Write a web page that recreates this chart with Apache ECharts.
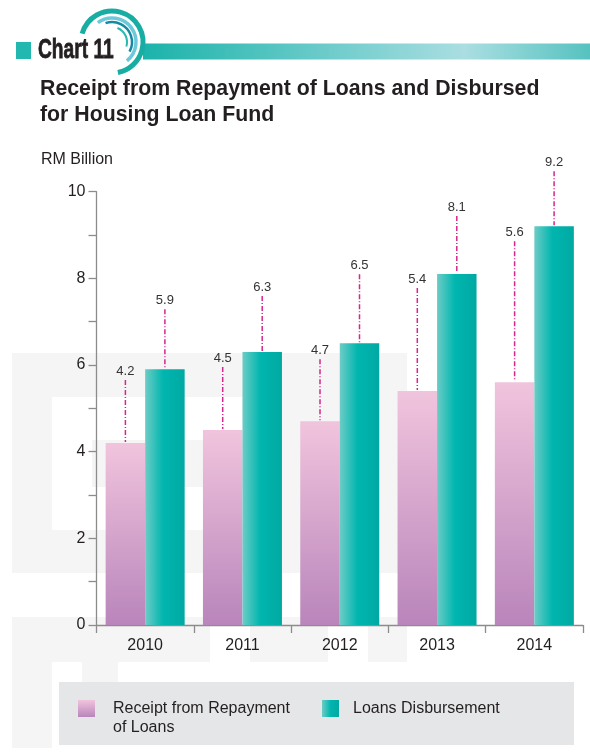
<!DOCTYPE html>
<html>
<head>
<meta charset="utf-8">
<style>
  html, body { margin: 0; padding: 0; background: #ffffff; }
  #chart { width: 590px; height: 753px; }
</style>
<script src="https://cdn.jsdelivr.net/npm/echarts@6/dist/echarts.min.js"></script>
</head>
<body>
<div id="chart"></div>
<script>
// Years on the category axis
const years = ['2010', '2011', '2012', '2013', '2014'];
// RM billion
const receiptValues = [4.2, 4.5, 4.7, 5.4, 5.6];
const disbursementValues = [5.9, 6.3, 6.5, 8.1, 9.2];
// Value axis ticks (labels shown on even values only)
const yTicks = [0, 2, 4, 6, 8, 10];

const receiptName = 'Receipt from Repayment of Loans';
const disbursementName = 'Loans Disbursement';

// How far (px) each value label sits above its bar top
const receiptLift = [72, 72, 71, 112, 150];
const disbursementLift = [69, 65, 78, 67, 64];

const BAR_W = 39.5;
const FONT = '"Liberation Sans", Arial, sans-serif';
const TEXT = '#231f20';
const AXIS = '#8c8c8c';

const pinkFill = new echarts.graphic.LinearGradient(0, 0, 0, 1, [
  { offset: 0, color: '#f1c4dd' },
  { offset: 1, color: '#b985bb' }
]);
const tealFill = new echarts.graphic.LinearGradient(0, 0, 1, 0, [
  { offset: 0, color: '#6dccc6' },
  { offset: 0.45, color: '#00b6af' },
  { offset: 1, color: '#00a9a3' }
]);

// Dashed leader line from a bar top up to its value label
function leaderRenderer(values, lifts, side) {
  return function (params, api) {
    const i = api.value(0);
    const v = api.value(1);
    const top = api.coord([i, v]);
    const x = top[0] + side * BAR_W / 2;
    const labelY = top[1] - lifts[i];
    return {
      type: 'group',
      children: [
        {
          type: 'line',
          shape: { x1: x, y1: labelY + 9, x2: x, y2: top[1] - 1 },
          style: { stroke: '#d4268e', lineWidth: 1.5, lineDash: [5, 2, 1, 2] }
        },
        {
          type: 'text',
          style: {
            x: x, y: labelY, text: String(values[i]),
            align: 'center', verticalAlign: 'middle',
            font: '13px ' + FONT, fill: '#333333'
          }
        }
      ]
    };
  };
}

// Faint background lettering
const wm = '#f5f5f5';
const watermark = [
  [12, 353, 395, 44], [12, 397, 40, 176], [92, 440, 165, 47], [12, 530, 245, 43],
  [256, 397, 151, 176],
  [12, 617, 198, 45], [250, 617, 78, 45], [368, 617, 39, 45],
  [12, 662, 40, 86], [82, 662, 36, 20]
].map(function (r) {
  return { type: 'rect', z: -10, silent: true, shape: { x: r[0], y: r[1], width: r[2], height: r[3] }, style: { fill: wm } };
});

const chart = echarts.init(document.getElementById('chart'), null, { renderer: 'canvas' });

chart.setOption({
  backgroundColor: '#ffffff',
  animation: false,
  title: {
    text: 'Receipt from Repayment of Loans and Disbursed\nfor Housing Loan Fund',
    left: 40, top: 76, padding: 0,
    textStyle: { fontFamily: FONT, fontSize: 21.3, fontWeight: 'bold', color: TEXT, lineHeight: 26 }
  },
  grid: { left: 96.5, top: 191.7, width: 486.5, height: 433.3 },
  xAxis: {
    type: 'category',
    data: years,
    axisLine: { lineStyle: { color: AXIS, width: 1.3 } },
    axisTick: { show: true, length: 8, lineStyle: { color: AXIS, width: 1.3 } },
    axisLabel: { margin: 13, fontFamily: FONT, fontSize: 16, color: TEXT }
  },
  yAxis: {
    type: 'value',
    min: 0, max: 10, interval: 1,
    splitLine: { show: false },
    axisLine: { show: true, lineStyle: { color: AXIS, width: 1.3 } },
    axisTick: { show: true, length: 8, lineStyle: { color: AXIS, width: 1.3 } },
    axisLabel: {
      margin: 11, fontFamily: FONT, fontSize: 16, color: TEXT,
      formatter: function (v) { return yTicks.indexOf(v) >= 0 ? String(v) : ''; }
    }
  },
  graphic: [
    ...watermark,
    // header: square marker, ribbon, arcs and heading word
    { type: 'rect', shape: { x: 16, y: 42, width: 15, height: 17 }, style: { fill: '#22b8b0' } },
    {
      type: 'rect',
      shape: { x: 143, y: 43.5, width: 447, height: 16 },
      style: {
        fill: new echarts.graphic.LinearGradient(0, 0, 1, 0, [
          { offset: 0, color: '#1bb3aa' },
          { offset: 0.72, color: '#aadee2' },
          { offset: 1, color: '#56c2bf' }
        ])
      }
    },
    { type: 'arc', shape: { cx: 112, cy: 42, r: 31, startAngle: -2.87, endAngle: 1.38, clockwise: true }, style: { stroke: '#17ada3', lineWidth: 5, fill: null } },
    { type: 'arc', shape: { cx: 112, cy: 42, r: 24, startAngle: -2.2, endAngle: 0.9, clockwise: true }, style: { stroke: '#6cc9dc', lineWidth: 3.5, fill: null } },
    { type: 'arc', shape: { cx: 112, cy: 42, r: 20, startAngle: -1.9, endAngle: 0.5, clockwise: true }, style: { stroke: '#1489a0', lineWidth: 2.5, fill: null } },
    { type: 'arc', shape: { cx: 112, cy: 42, r: 15, startAngle: -1.2, endAngle: 0.3, clockwise: true }, style: { stroke: '#2bb8ad', lineWidth: 2, fill: null } },
    {
      type: 'text', x: 38, y: 51, scaleX: 0.71,
      style: {
        text: 'Chart 11', font: 'bold 27px "Liberation Sans", Arial, sans-serif',
        fill: '#231f20', stroke: '#231f20', lineWidth: 0.8, verticalAlign: 'middle'
      }
    },
    // unit label
    { type: 'text', x: 41, y: 160, style: { text: 'RM Billion', font: '16px ' + FONT, fill: TEXT, verticalAlign: 'middle' } },
    // legend panel
    { type: 'rect', shape: { x: 59, y: 682, width: 515, height: 63 }, style: { fill: '#e5e6e8' } },
    { type: 'rect', shape: { x: 78, y: 700, width: 17, height: 17 }, style: { fill: new echarts.graphic.LinearGradient(0, 0, 0, 1, [{ offset: 0, color: '#f1c4dd' }, { offset: 1, color: '#b985bb' }]) } },
    { type: 'text', x: 113, y: 699, style: { text: 'Receipt from Repayment\nof Loans', font: '16px ' + FONT, fill: TEXT, verticalAlign: 'top', lineHeight: 19 } },
    { type: 'rect', shape: { x: 322, y: 700, width: 17, height: 17 }, style: { fill: new echarts.graphic.LinearGradient(0, 0, 1, 0, [{ offset: 0, color: '#6dccc6' }, { offset: 0.5, color: '#00b6af' }, { offset: 1, color: '#00a9a3' }]) } },
    { type: 'text', x: 353, y: 708.5, style: { text: 'Loans Disbursement', font: '16px ' + FONT, fill: TEXT, verticalAlign: 'middle' } }
  ],
  series: [
    {
      name: receiptName,
      type: 'bar',
      data: receiptValues,
      barWidth: BAR_W,
      barGap: '0%',
      itemStyle: { color: pinkFill }
    },
    {
      name: disbursementName,
      type: 'bar',
      data: disbursementValues,
      barWidth: BAR_W,
      barGap: '0%',
      itemStyle: { color: tealFill }
    },
    {
      type: 'custom',
      z: 5,
      renderItem: leaderRenderer(receiptValues, receiptLift, -1),
      data: receiptValues.map(function (v, i) { return [i, v]; })
    },
    {
      type: 'custom',
      z: 5,
      renderItem: leaderRenderer(disbursementValues, disbursementLift, 1),
      data: disbursementValues.map(function (v, i) { return [i, v]; })
    }
  ]
});
</script>
</body>
</html>
